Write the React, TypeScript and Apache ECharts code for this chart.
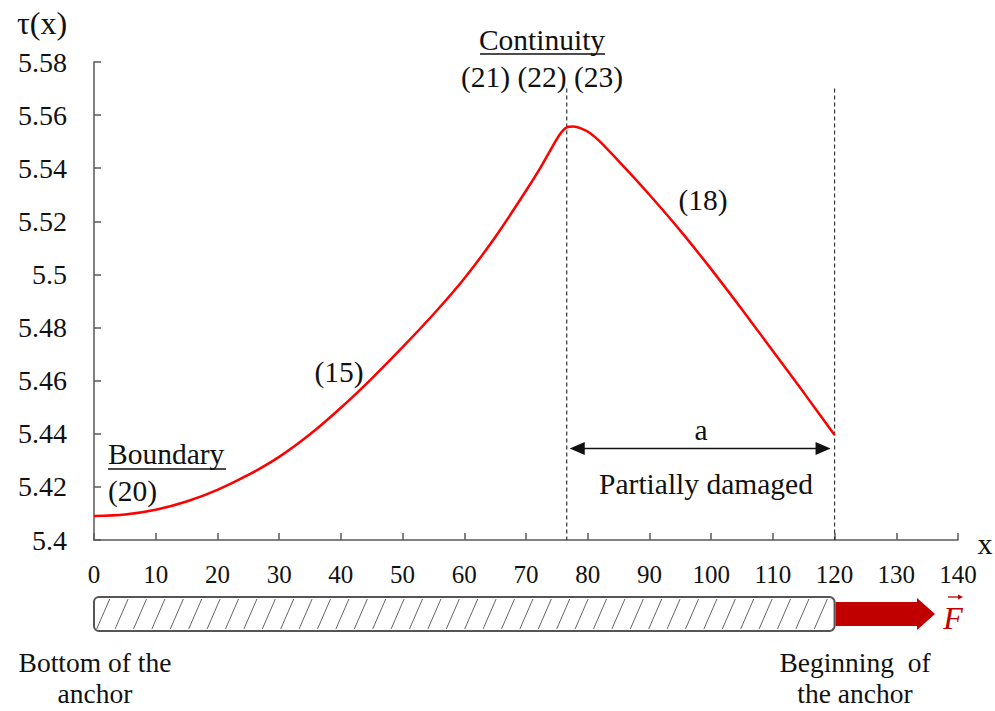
import React, { useEffect, useRef } from "react";
import * as echarts from "echarts";

// ---- data ----
const xPoints = [0, 5, 10, 15, 20, 25, 30, 35, 40, 45, 50, 55, 60, 65, 70, 72.3, 74, 75.5, 76.6, 77.7, 78.8, 80.4, 82, 86, 90, 95, 100, 105, 110, 115, 120];
const tauPoints = [5.409, 5.4096, 5.4114, 5.4145, 5.4189, 5.4245, 5.4313, 5.4398, 5.4498, 5.4608, 5.4726, 5.485, 5.4985, 5.514, 5.5315, 5.54, 5.547, 5.5528, 5.5554, 5.5557, 5.5551, 5.5532, 5.55, 5.5402, 5.53, 5.5165, 5.502, 5.4868, 5.4712, 5.4555, 5.4395];

const xMin = 0;
const xMax = 140;
const xStep = 10;
const yMin = 5.4;
const yMax = 5.58;
const yStep = 0.02;

const continuityX = 76.6;
const damagedEndX = 120;
const dashedTopY = 5.57;
const arrowY = 5.4345;

const SERIF = '"Liberation Serif", "Times New Roman", serif';

export default function App() {
  const ref = useRef<HTMLDivElement>(null);

  useEffect(() => {
    if (!ref.current) return;
    const chart = echarts.init(ref.current, undefined, { renderer: "svg" });
    const curve = xPoints.map((x, i) => [x, tauPoints[i]]);

    chart.setOption({
      animation: false,
      grid: { left: 94, right: 37, top: 62, bottom: 171 },
      xAxis: {
        type: "value",
        min: xMin,
        max: xMax,
        interval: xStep,
        splitLine: { show: false },
        axisLine: { lineStyle: { color: "#595959", width: 1.5 } },
        axisTick: { inside: true, length: 7, lineStyle: { color: "#595959", width: 1.5 } },
        axisLabel: { color: "#111", fontFamily: SERIF, fontSize: 25, margin: 22 },
      },
      yAxis: {
        type: "value",
        min: yMin,
        max: yMax,
        interval: yStep,
        splitLine: { show: false },
        axisLine: { show: true, lineStyle: { color: "#595959", width: 1.5 } },
        axisTick: { show: true, inside: true, length: 7, lineStyle: { color: "#595959", width: 1.5 } },
        axisLabel: {
          color: "#111",
          fontFamily: SERIF,
          fontSize: 28,
          margin: 27,
          formatter: (v: number) => String(Number(v.toFixed(2))),
        },
      },
      series: [
        {
          type: "line",
          data: curve,
          showSymbol: false,
          smooth: 0.3,
          lineStyle: { color: "#ff0000", width: 2.5 },
          silent: true,
          z: 5,
        },
        {
          type: "line",
          data: [[continuityX, dashedTopY], [continuityX, yMin]],
          showSymbol: false,
          lineStyle: { color: "#333", width: 1.2, type: [4, 3] },
          silent: true,
        },
        {
          type: "line",
          data: [[damagedEndX, dashedTopY], [damagedEndX, yMin]],
          showSymbol: false,
          lineStyle: { color: "#333", width: 1.2, type: [4, 3] },
          silent: true,
        },
      ],
    });

    const px = (v: number) => chart.convertToPixel({ xAxisIndex: 0 }, v) as number;
    const py = (v: number) => chart.convertToPixel({ yAxisIndex: 0 }, v) as number;

    const txt = (text: string, x: number, y: number, size: number, align = "center", extra: any = {}) => ({
      type: "text",
      x,
      y,
      silent: true,
      style: {
        text,
        fontFamily: SERIF,
        fontSize: size,
        fill: "#111",
        align,
        verticalAlign: "middle",
        ...extra,
      },
    });
    const ln = (x1: number, y1: number, x2: number, y2: number, stroke = "#111", lineWidth = 1.3) => ({
      type: "line",
      silent: true,
      shape: { x1, y1, x2, y2 },
      style: { stroke, lineWidth },
    });

    const A = 29.5;
    const g: any[] = [];
    g.push(txt("τ(x)", 42, 23, 32));
    g.push(txt("x", 985, 543, 30));

    g.push(txt("Boundary", 108, 454, A, "left"));
    g.push(ln(108, 469, 226, 469));
    g.push(txt("(20)", 108, 491, A, "left"));
    g.push(txt("(15)", 339, 372, A));
    g.push(txt("Continuity", 542, 40, A));
    g.push(ln(480, 54, 605, 54));
    g.push(txt("(21) (22) (23)", 542, 77, A));
    g.push(txt("(18)", 703, 200, A));
    g.push(txt("a", 701, 430, A));
    g.push(txt("Partially damaged", 706, 484, A));

    // double arrow "a"
    const ay = py(arrowY);
    const aL = px(continuityX) + 3;
    const aR = px(damagedEndX) - 4;
    g.push(ln(aL + 5, ay, aR - 5, ay, "#111", 1.5));
    g.push({ type: "polygon", silent: true, shape: { points: [[aL, ay], [aL + 15, ay - 6.5], [aL + 15, ay + 6.5]] }, style: { fill: "#111" } });
    g.push({ type: "polygon", silent: true, shape: { points: [[aR, ay], [aR - 15, ay - 6.5], [aR - 15, ay + 6.5]] }, style: { fill: "#111" } });

    // anchor bar
    const L = px(xMin);
    const R = px(damagedEndX);
    const top = 597;
    const bottom = 631;
    g.push({
      type: "rect",
      silent: true,
      shape: { x: L, y: top, width: R - L, height: bottom - top, r: 5 },
      style: { fill: "#fff", stroke: "#555", lineWidth: 2 },
    });
    const hTop = top + 2;
    const hBot = bottom - 2;
    const slant = 13;
    const step = 18.4;
    for (let xb = L + 2.7 - step; xb < R; xb += step) {
      let x1 = xb, y1 = hBot, x2 = xb + slant, y2 = hTop;
      const Lc = L + 1.5, Rc = R - 1.5;
      if (x2 <= Lc || x1 >= Rc) continue;
      if (x1 < Lc) {
        const t = (Lc - xb) / slant;
        x1 = Lc;
        y1 = hBot - t * (hBot - hTop);
      }
      if (x2 > Rc) {
        const t = (Rc - xb) / slant;
        x2 = Rc;
        y2 = hBot - t * (hBot - hTop);
      }
      g.push(ln(x1, y1, x2, y2, "#666", 1));
    }

    // force arrow
    const fy = (top + bottom) / 2;
    g.push({
      type: "polygon",
      silent: true,
      shape: {
        points: [
          [R + 1, fy - 12], [917, fy - 12], [917, top + 1], [935, fy],
          [917, bottom - 1], [917, fy + 12], [R + 1, fy + 12],
        ],
      },
      style: { fill: "#c00000" },
    });
    g.push(txt("F", 953, 618, 32, "center", { fill: "#c00000", fontStyle: "italic" }));
    g.push(ln(948, 597, 959, 597, "#c00000", 1.3));
    g.push({ type: "polygon", silent: true, shape: { points: [[963, 597], [958, 594.5], [958, 599.5]] }, style: { fill: "#c00000" } });

    g.push(txt("Bottom of the", 95, 662, 27.5));
    g.push(txt("anchor", 95, 693, 27.5));
    g.push(txt("Beginning  of", 855, 662, 27.5));
    g.push(txt("the anchor", 855, 693, 27.5));

    chart.setOption({ graphic: g });

    return () => chart.dispose();
  }, []);

  return <div ref={ref} style={{ position: "fixed", left: 0, top: 0, width: 995, height: 711, background: "#fff" }} />;
}
